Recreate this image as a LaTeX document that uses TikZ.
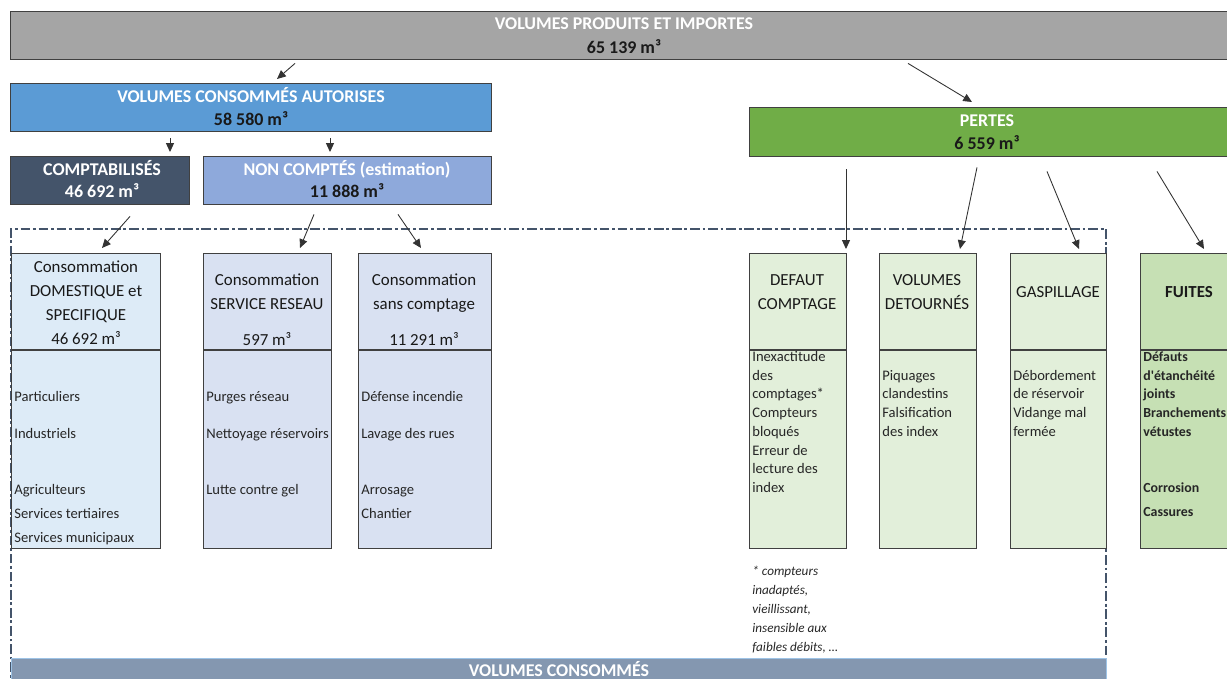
\documentclass[tikz,border=0pt]{standalone}
\usepackage{fontspec}
\setmainfont{Carlito}
\usetikzlibrary{arrows.meta}
\newlength{\unitpx}
\setlength{\unitpx}{0.02cm}
\definecolor{prodgray}{HTML}{A5A5A5}
\definecolor{autoblue}{HTML}{5B9BD5}
\definecolor{slate}{HTML}{44546A}
\definecolor{noncblue}{HTML}{8EA9DB}
\definecolor{pertgreen}{HTML}{70AD47}
\definecolor{domfill}{HTML}{DDEBF7}
\definecolor{servfill}{HTML}{D9E1F2}
\definecolor{lossfill}{HTML}{E2EFDA}
\definecolor{fuitfill}{HTML}{C6E0B4}
\definecolor{consbar}{HTML}{8497B0}
\definecolor{consedge}{HTML}{9DC3E6}

\begin{document}
\begin{tikzpicture}[x=0.02cm, y=-0.02cm,
		box/.style={draw=black!75, line width=0.6pt, anchor=north west, inner sep=0pt},
		hd/.style={inner sep=0pt, text height=8pt, text depth=0.8pt, font=\fontsize{9.6}{11.5}\selectfont, text=black!90},
		hdb/.style={hd, font=\fontsize{10.2}{12}\selectfont\bfseries},
		item/.style={anchor=west, inner sep=0pt, text height=7pt, text depth=0.4pt, font=\fontsize{8.3}{10}\selectfont, text=black!85},
		arr/.style={-{Triangle[length=5pt,width=4.5pt]}, line width=0.5pt, draw=black!80},
		frame/.style={draw=slate, line width=1.1pt, dash pattern=on 5.5pt off 1.6pt on 1.6pt off 1.6pt}]
		\useasboundingbox (0,0) rectangle (1227,679);
		\clip (0,0) rectangle (1227,679);

		% Frame of the consumed volumes
		\draw[frame] (11,690) -- (11,229) -- (1106,229) -- (1106,690);

		% Top levels
		\node[box, fill=prodgray, line width=0.8pt, minimum width=1228\unitpx, minimum height=48\unitpx] (prod) at (10,11) {};
		\node[hdb, text=white] (prod-t) at (624,23) {VOLUMES PRODUITS ET IMPORTES};
		\node[hdb] (prod-v) at (624,47) {65 139 m³};

		\node[box, fill=autoblue, line width=0.8pt, minimum width=481\unitpx, minimum height=48\unitpx] (auto) at (10,83) {};
		\node[hdb, text=white] (auto-t) at (251,96) {VOLUMES CONSOMMÉS AUTORISES};
		\node[hdb] (auto-v) at (251,119) {58 580 m³};

		\node[box, fill=pertgreen, line width=0.8pt, minimum width=480\unitpx, minimum height=49\unitpx] (pertes) at (749,107) {};
		\node[hdb, text=white] (pertes-t) at (987,120) {PERTES};
		\node[hdb] (pertes-v) at (987,143) {6 559 m³};

		\node[box, fill=slate, line width=0.8pt, minimum width=179\unitpx, minimum height=48\unitpx] (compta) at (10,156) {};
		\node[hdb, text=white] (compta-t) at (102,169) {COMPTABILISÉS};
		\node[hdb, text=white] (compta-v) at (102,191) {46 692 m³};

		\node[box, fill=noncblue, line width=0.8pt, minimum width=288\unitpx, minimum height=48\unitpx] (noncompt) at (203,156) {};
		\node[hdb, text=white] (noncompt-t) at (347,169) {NON COMPTÉS (estimation)};
		\node[hdb] (noncompt-v) at (347,191) {11 888 m³};

		% Detail boxes
		\node[box, fill=domfill, minimum width=149\unitpx, minimum height=295\unitpx] (dom) at (11,253) {};
		\node[box, fill=servfill, minimum width=128\unitpx, minimum height=295\unitpx] (serv) at (203,253) {};
		\node[box, fill=servfill, minimum width=133\unitpx, minimum height=295\unitpx] (sans) at (358,253) {};
		\node[box, fill=lossfill, minimum width=97\unitpx, minimum height=295\unitpx] (defaut) at (749,253) {};
		\node[box, fill=lossfill, minimum width=97\unitpx, minimum height=295\unitpx] (detour) at (879,253) {};
		\node[box, fill=lossfill, minimum width=96\unitpx, minimum height=295\unitpx] (gaspi) at (1010,253) {};
		\node[box, fill=fuitfill, minimum width=100\unitpx, minimum height=295\unitpx] (fuites) at (1140,253) {};
		\foreach \b in {dom,serv,sans,defaut,detour,gaspi,fuites}
			\draw[draw=black!75, line width=0.6pt] ([shift={(0,97)}]\b.north west) -- ([shift={(0,97)}]\b.north east);

		% Headings of the detail boxes
		\foreach \y/\t [count=\i] in {266/Consommation, 290/DOMESTIQUE et, 314/SPECIFIQUE, 338/46 692 m³}
			\node[hd] (dom-h\i) at (86,\y) {\t};
		\foreach \y/\t [count=\i] in {279/Consommation, 303/SERVICE RESEAU, 339/597 m³}
			\node[hd] (serv-h\i) at (267,\y) {\t};
		\foreach \y/\t [count=\i] in {279/Consommation, 303/sans comptage, 339/11 291 m³}
			\node[hd] (sans-h\i) at (424,\y) {\t};
		\foreach \y/\t [count=\i] in {279/DEFAUT, 303/COMPTAGE}
			\node[hd] (defaut-h\i) at (797,\y) {\t};
		\foreach \y/\t [count=\i] in {279/VOLUMES, 303/DETOURNÉS}
			\node[hd] (detour-h\i) at (927,\y) {\t};
		\node[hd] (gaspi-h) at (1058,291) {GASPILLAGE};
		\node[hd, font=\fontsize{9.6}{11.5}\selectfont\bfseries] (fuites-h) at (1189,291) {FUITES};

		% Items
		\foreach \y/\t [count=\i] in {396/Particuliers, 433/Industriels, 489/Agriculteurs, 513/Services tertiaires, 537/Services municipaux}
			\node[item] (dom-\i) at (14,\y) {\t};
		\foreach \y/\t [count=\i] in {396/Purges réseau, 433/Nettoyage réservoirs, 489/Lutte contre gel}
			\node[item] (serv-\i) at (206,\y) {\t};
		\foreach \y/\t [count=\i] in {396/Défense incendie, 433/Lavage des rues, 489/Arrosage, 513/Chantier}
			\node[item] (sans-\i) at (361,\y) {\t};
		\foreach \y/\t [count=\i] in {356/Inexactitude, 375/des, 393/comptages*, 412/Compteurs, 431/bloqués, 450/Erreur de, 468/lecture des, 487/index}
			\node[item] (defaut-\i) at (752,\y) {\t};
		\foreach \y/\t [count=\i] in {375/Piquages, 393/clandestins, 412/Falsification, 431/des index}
			\node[item] (detour-\i) at (882,\y) {\t};
		\foreach \y/\t [count=\i] in {375/Débordement, 393/de réservoir, 412/Vidange mal, 431/fermée}
			\node[item] (gaspi-\i) at (1013,\y) {\t};
		\foreach \y/\t [count=\i] in {356/Défauts, 375/d\textquotesingle étanchéité, 393/joints, 412/Branchements, 431/vétustes, 487/Corrosion, 511/Cassures}
			\node[item, font=\fontsize{7.9}{10}\selectfont\bfseries] (fuites-\i) at (1143,\y) {\t};

		% Footnote
		\foreach \y/\t [count=\i] in {570/* compteurs, 589/{inadaptés,}, 608/{vieillissant,}, 627/insensible aux, 646/{faibles débits, …}}
			\node[item, font=\fontsize{7.5}{10}\selectfont\itshape] (note-\i) at (752,\y) {\t};

		% Bottom bar
		\node[box, fill=consbar, draw=consedge, minimum width=1095\unitpx, minimum height=40\unitpx] (conso) at (11,658) {};
		\node[hdb, text=white] (conso-t) at (559,670) {VOLUMES CONSOMMÉS};

		% Arrows
		\draw[arr] ([shift={(285,3)}]prod.south west) -- ([shift={(267,-4)}]auto.north west);
		\draw[arr] ([shift={(898,3)}]prod.south west) -- ([shift={(223,-5)}]pertes.north west);
		\draw[arr] ([shift={(160,6)}]auto.south west) -- ([shift={(160,-4)}]compta.north west);
		\draw[arr] ([shift={(320,6)}]auto.south west) -- ([shift={(127,-4)}]noncompt.north west);
		\draw[arr] ([shift={(120,11)}]compta.south west) -- ([shift={(91,-5)}]dom.north west);
		\draw[arr] ([shift={(111,9)}]noncompt.south west) -- ([shift={(97,-5)}]serv.north west);
		\draw[arr] ([shift={(195,9)}]noncompt.south west) -- ([shift={(63,-5)}]sans.north west);
		\draw[arr] ([shift={(97,12)}]pertes.south west) -- ([shift={(97,-4)}]defaut.north west);
		\draw[arr] ([shift={(228,10)}]pertes.south west) -- ([shift={(81,-4)}]detour.north west);
		\draw[arr] ([shift={(298,14)}]pertes.south west) -- ([shift={(69,-4)}]gaspi.north west);
		\draw[arr] ([shift={(408,14)}]pertes.south west) -- ([shift={(64,-4)}]fuites.north west);
	\end{tikzpicture}
\end{document}
